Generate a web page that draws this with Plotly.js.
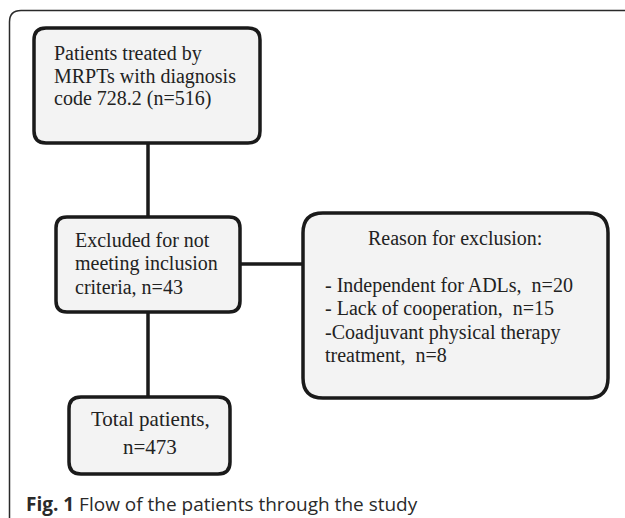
<!DOCTYPE html>
<html>
<head>
<meta charset="utf-8">
<script src="https://cdn.plot.ly/plotly-3.0.1.min.js"></script>
<style>html,body{margin:0;padding:0;background:#fff;}#chart{width:625px;height:518px;}</style>
</head>
<body>
<div id="chart"></div>
<script>
// ---- content (texts of the flow chart) ----
const box1Lines = ["Patients treated by", "MRPTs with diagnosis", "code 728.2 (n=516)"];
const box2Lines = ["Excluded for not", "meeting inclusion", "criteria, n=43"];
const box3Title = ["Reason for exclusion:"];
const box3Lines = ["- Independent for ADLs,  n=20", "- Lack of cooperation,  n=15", "-Coadjuvant physical therapy", "treatment,  n=8"];
const box4Lines = ["Total patients,", "n=473"];
const captionBold = ["Fig. 1"];
const captionText = [" Flow of the patients through the study"];

// ---- layout geometry (pixels) ----
const boxes = [
  {x0: 34, y0: 28, x1: 260, y1: 143, r: 12},
  {x0: 56, y0: 217, x1: 240, y1: 312, r: 11},
  {x0: 303, y0: 213, x1: 608, y1: 398, r: 20},
  {x0: 69, y0: 397, x1: 230, y1: 474, r: 12}
];
function roundRect(b) {
  const {x0, y0, x1, y1, r} = b;
  return `M ${x0 + r} ${y0} L ${x1 - r} ${y0} Q ${x1} ${y0} ${x1} ${y0 + r} L ${x1} ${y1 - r} Q ${x1} ${y1} ${x1 - r} ${y1} L ${x0 + r} ${y1} Q ${x0} ${y1} ${x0} ${y1 - r} L ${x0} ${y0 + r} Q ${x0} ${y0} ${x0 + r} ${y0} Z`;
}
const shapes = [];
// outer frame (open at right/bottom)
shapes.push({type: 'path', path: 'M 9.5 518 L 9.5 22 Q 9.5 10.5 21 10.5 L 625 10.5', line: {color: '#2a2a2a', width: 1.5}, layer: 'below'});
// connectors
shapes.push({type: 'line', x0: 148, y0: 143, x1: 148, y1: 217, line: {color: '#1a1a1a', width: 3.5}});
shapes.push({type: 'line', x0: 148, y0: 312, x1: 148, y1: 397, line: {color: '#1a1a1a', width: 3.5}});
shapes.push({type: 'line', x0: 240, y0: 264, x1: 303, y1: 264, line: {color: '#1a1a1a', width: 3.5}});
boxes.forEach(b => shapes.push({type: 'path', path: roundRect(b), fillcolor: '#f3f3f3', line: {color: '#1a1a1a', width: 3.5}}));

const serif = {family: 'Liberation Serif, Times New Roman, serif', size: 20, color: '#222'};
const annotations = [];
function addLines(lines, x, ys, anchor, size) {
  lines.forEach((t, i) => annotations.push({
    x: x, y: ys[i], xref: 'x', yref: 'y', text: t, showarrow: false,
    xanchor: anchor, yanchor: 'middle', font: Object.assign({}, serif, size ? {size: size} : {})
  }));
}
addLines(box1Lines, 52, [53, 76, 98], 'left');
addLines(box2Lines, 73, [240, 263, 287], 'left');
addLines(box3Title, 455, [238], 'center');
addLines(box3Lines, 323, [285, 308, 332, 355], 'left');
addLines(box4Lines, 150, [419, 447], 'center', 21);
annotations.push({
  x: 24, y: 504, xref: 'x', yref: 'y', showarrow: false, xanchor: 'left', yanchor: 'middle',
  text: '<b>' + captionBold[0] + '</b>' + captionText[0],
  font: {family: 'Open Sans, Noto Sans, sans-serif', size: 19, color: '#2a2a2a'}
});

const layout = {
  width: 625, height: 518,
  margin: {l: 0, r: 0, t: 0, b: 0},
  paper_bgcolor: '#fff', plot_bgcolor: '#fff',
  xaxis: {range: [0, 625], visible: false, fixedrange: true},
  yaxis: {range: [518, 0], visible: false, fixedrange: true},
  shapes: shapes,
  annotations: annotations,
  showlegend: false
};
Plotly.newPlot('chart', [], layout, {staticPlot: true, displayModeBar: false});
</script>
</body>
</html>
